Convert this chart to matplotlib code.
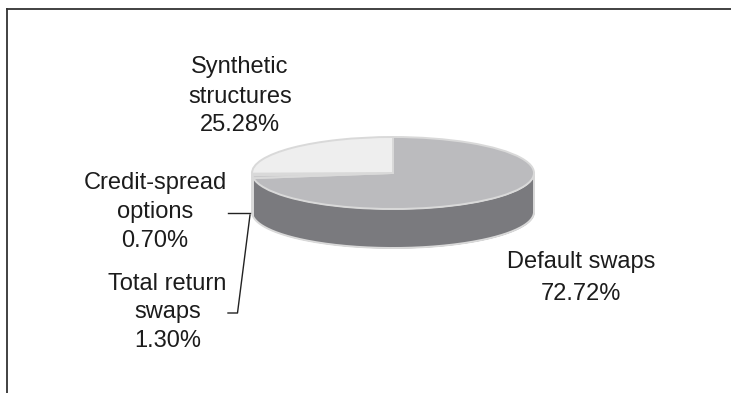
import numpy as np
import matplotlib
matplotlib.use("Agg")
import matplotlib.pyplot as plt
from matplotlib.lines import Line2D

plt.rcParams['font.family'] = ['Liberation Sans', 'DejaVu Sans']

# share of each product, clockwise from 12 o'clock
names = ["Default swaps", "Total return swaps", "Credit-spread options", "Synthetic structures"]
shares = [72.72, 1.30, 0.70, 25.28]
top_colors = ["#bbbbbe", "#c6c6c8", "#c6c6c8", "#eeeeee"]
side_colors = ["#7a7a7e", "#d8d8d8", "#d8d8d8", "#eeeeee"]

W, H = 731, 393
cx, cy, rx, ry = 393, 173, 141, 36
depth = 39 / ry

fig = plt.figure(figsize=(W / 100, H / 100), dpi=100)
ax = fig.add_axes([(cx - rx) / W, 1 - (cy + ry) / H, 2 * rx / W, 2 * ry / H])

wedges, _ = ax.pie(shares, colors=top_colors, startangle=90, counterclock=False, radius=1,
                   wedgeprops=dict(edgecolor="#d9d9d9", linewidth=1.4, clip_on=False))
ax.set_aspect('auto')
ax.set_xlim(-1, 1)
ax.set_ylim(-1, 1)

# side wall of the disc, only the part of each slice that faces the viewer
ends = 90 - np.cumsum(shares) * 3.6
starts = np.concatenate(([90], ends[:-1]))
for a0, a1, col in zip(starts, ends, side_colors):
    lo, hi = max(a1, -180), min(a0, 0)
    if lo >= hi:
        continue
    t = np.radians(np.linspace(lo, hi, 120))
    ax.fill_between(np.cos(t), np.sin(t), np.sin(t) - depth, color=col, lw=0, zorder=0, clip_on=False)

# lower rim of the disc
t = np.radians(np.linspace(-180, 0, 200))
ax.plot(np.cos(t), np.sin(t) - depth, color="#d9d9d9", lw=1.4, zorder=0.5, clip_on=False)
ax.plot([-1, -1], [0, -depth], color="#d9d9d9", lw=1.4, zorder=0.5, clip_on=False)
ax.plot([1, 1], [0, -depth], color="#d9d9d9", lw=1.4, zorder=0.5, clip_on=False)


def px_line(xs, ys, color="#222222", lw=1.0):
    fig.add_artist(Line2D([x / W for x in xs], [1 - y / H for y in ys], color=color, lw=lw))


def px_label(x, baselines, lines):
    # one text per line so each baseline sits exactly where it should
    for y, s in zip(baselines, lines):
        fig.text(x / W, 1 - y / H, s, ha="center", va="baseline", fontsize=17,
                 color="#1c1c1c")


# frame along the top and left
px_line([6.5, 731], [9, 9], color="#333333", lw=1.3)
px_line([6.5, 6.5], [9, 393], color="#333333", lw=1.3)

# leader lines for the two small slices
px_line([228, 250], [213, 213])
px_line([228, 237.5, 250], [313, 313, 215])

px_label(240, [73, 103, 131], ["Synthetic", "structures", "25.28%"])
px_label(155, [189, 218, 247], ["Credit-spread", "options", "0.70%"])
px_label(167.5, [290, 318, 347], ["Total return", "swaps", "1.30%"])
px_label(581, [268, 300], ["Default swaps", "72.72%"])

fig.savefig("out.png", dpi=100)
